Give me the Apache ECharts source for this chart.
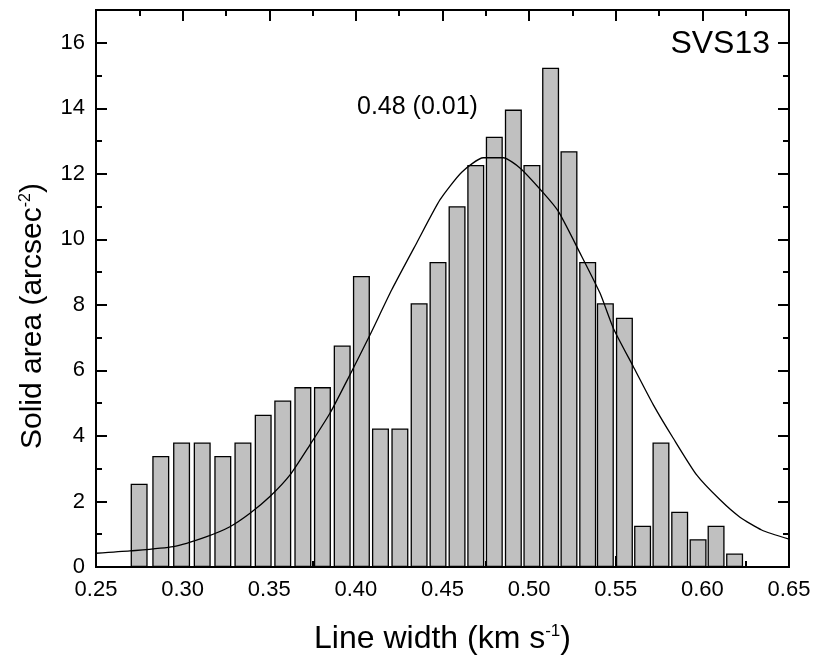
<!DOCTYPE html>
<html>
<head>
<meta charset="utf-8">
<script src="https://cdn.jsdelivr.net/npm/echarts@6/dist/echarts.min.js"></script>
<style>
html, body { margin: 0; padding: 0; background: #fff; }
#chart { width: 814px; height: 662px; }
</style>
</head>
<body>
<div id="chart"></div>
<script>
// bin centres (km/s) and solid area per bin (arcsec^-2)
var binCenters = [0.2749, 0.2874, 0.2994, 0.3113, 0.3232, 0.3348, 0.3465, 0.3578,
    0.3694, 0.3807, 0.3921, 0.4032, 0.4142, 0.4254, 0.4365, 0.4474,
    0.4584, 0.4692, 0.4799, 0.4909, 0.5016, 0.5124, 0.5230, 0.5338,
    0.5440, 0.5550, 0.5655, 0.5761, 0.5869, 0.5975, 0.6079, 0.6186];
var areas = [2.54, 3.39, 3.80, 3.80, 3.39, 3.80, 4.65, 5.08,
    5.49, 5.49, 6.76, 8.88, 4.23, 4.23, 8.05, 9.31,
    11.01, 12.27, 13.13, 13.96, 12.27, 15.24, 12.69, 9.31,
    8.05, 7.61, 1.26, 3.80, 1.69, 0.85, 1.26, 0.41];

// gaussian fit curve, sampled from the figure
var fitX = [0.25, 0.2696, 0.2946, 0.3139, 0.3273, 0.3389, 0.3504, 0.362, 0.3735, 0.3851,
    0.3966, 0.4082, 0.4207, 0.4351, 0.4486, 0.4611, 0.4736, 0.4851, 0.4947, 0.5082,
    0.5168, 0.5294, 0.5409, 0.5486, 0.5601, 0.5717, 0.5832, 0.5967, 0.6102, 0.6217,
    0.6342, 0.65];
var fitY = [0.42, 0.49, 0.62, 0.93, 1.23, 1.64, 2.15, 2.81, 3.73, 4.70,
    5.87, 7.09, 8.46, 9.89, 11.21, 12.05, 12.49, 12.49, 12.18, 11.42,
    10.86, 9.58, 8.36, 7.29, 6.12, 4.95, 3.93, 2.81, 2.05, 1.52,
    1.13, 0.85];

var fitLabel = '0.48 (0.01)';
var sourceName = 'SVS13';

var FONT = 'Liberation Sans, Arial, sans-serif';

var myChart = echarts.init(document.getElementById('chart'));

function xAxisOf(pos, labels) {
    return {
        type: 'value', position: pos, min: 0.25, max: 0.65, interval: 0.05,
        axisLine: { show: true, onZero: false, lineStyle: { color: '#000', width: 2 } },
        axisTick: { show: true, inside: true, length: 11, lineStyle: { color: '#000', width: 2 } },
        minorTick: { show: true, splitNumber: 2, length: 6, lineStyle: { color: '#000', width: 2 } },
        splitLine: { show: false },
        axisLabel: {
            show: labels, color: '#000', fontSize: 22, fontFamily: FONT, margin: 12,
            formatter: function (v) { return v.toFixed(2); }
        }
    };
}

function yAxisOf(pos, step, len, labels) {
    return {
        type: 'value', position: pos, min: 0, max: 17, interval: step,
        axisLine: { show: true, onZero: false, lineStyle: { color: '#000', width: 2 } },
        axisTick: { show: true, inside: true, length: len, lineStyle: { color: '#000', width: 2 } },
        splitLine: { show: false },
        axisLabel: {
            show: labels, color: '#000', fontSize: 22, fontFamily: FONT, margin: 11,
            formatter: function (v) { return v > 16 ? '' : String(v); }
        }
    };
}

var xBottom = xAxisOf('bottom', true);
xBottom.name = 'Line width (km s{sup|-1})';
xBottom.nameLocation = 'middle';
xBottom.nameGap = 56;
xBottom.nameTextStyle = {
    color: '#000', fontSize: 32, fontFamily: FONT,
    rich: { sup: { fontSize: 17, fontFamily: FONT, color: '#000', verticalAlign: 'top' } }
};

option = {
    animation: false,
    backgroundColor: '#fff',
    grid: { left: 96, right: 25, top: 10, bottom: 95 },
    xAxis: [xBottom, xAxisOf('top', false)],
    yAxis: [
        yAxisOf('left', 2, 11, true),
        yAxisOf('left', 1, 6, false),
        yAxisOf('right', 2, 11, false),
        yAxisOf('right', 1, 6, false)
    ],
    graphic: [
        {
            type: 'text', x: 33, y: 316, rotation: Math.PI / 2,
            style: {
                text: 'Solid area (arcsec{sup|-2})', fontSize: 30, fontFamily: FONT, fill: '#000',
                align: 'center', verticalAlign: 'middle',
                rich: { sup: { fontSize: 16, fontFamily: FONT, fill: '#000', verticalAlign: 'top' } }
            }
        },
        { type: 'text', left: 357, top: 95, style: { text: fitLabel, fontSize: 25, fontFamily: FONT, fill: '#000' } },
        { type: 'text', right: 44, top: 28, style: { text: sourceName, fontSize: 32, fontFamily: FONT, fill: '#000' } }
    ],
    series: [
        {
            type: 'bar',
            xAxisIndex: 0, yAxisIndex: 0,
            barWidth: 17,
            data: binCenters.map(function (x, i) { return [x, areas[i]]; }),
            itemStyle: { color: '#c0c0c0', borderColor: '#000', borderWidth: 1.3 }
        },
        {
            type: 'line',
            xAxisIndex: 0, yAxisIndex: 0,
            showSymbol: false,
            smooth: 0.2,
            z: 5,
            data: fitX.map(function (x, i) { return [x, fitY[i]]; }),
            lineStyle: { color: '#000', width: 1.3 }
        }
    ]
};
myChart.setOption(option);
</script>
</body>
</html>
